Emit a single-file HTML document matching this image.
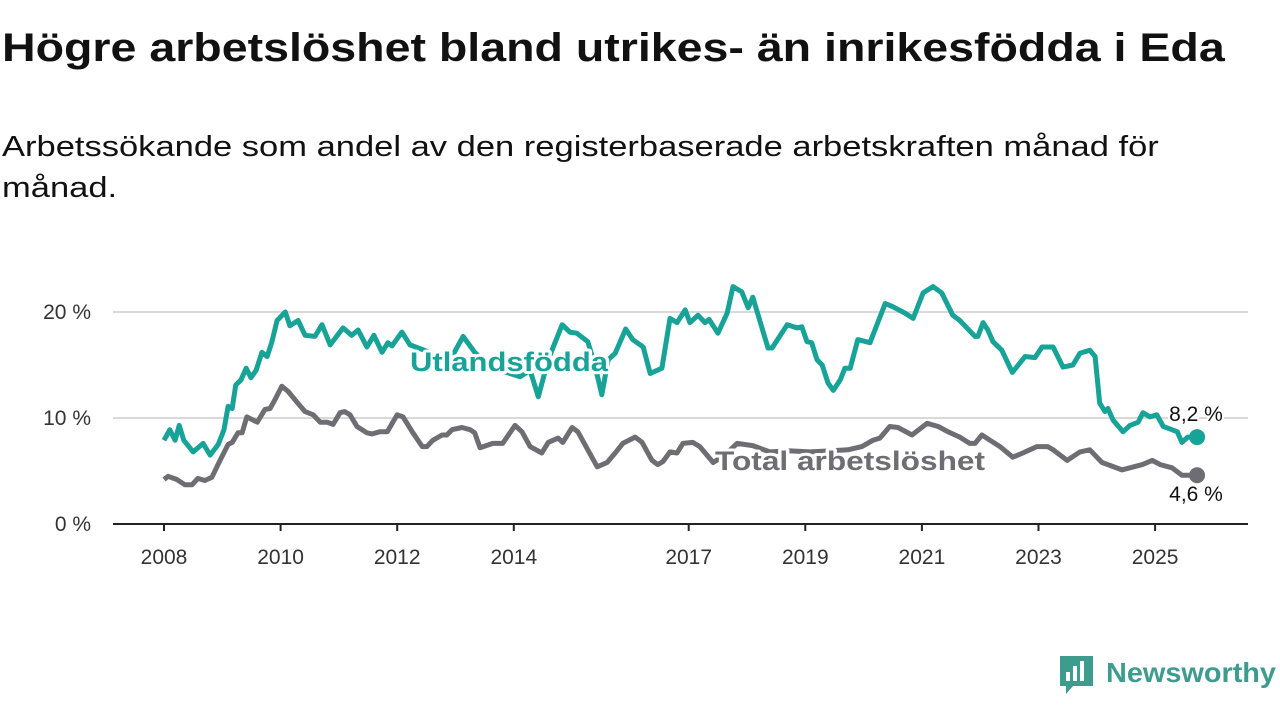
<!DOCTYPE html>
<html><head><meta charset="utf-8"><style>
body{margin:0;background:#fff;width:1280px;height:720px;overflow:hidden;font-family:"Liberation Sans","DejaVu Sans",sans-serif;color:#111;}
h1{position:absolute;left:2px;top:26px;margin:0;font-size:40px;font-weight:bold;white-space:nowrap;transform:scaleX(1.163);transform-origin:0 0;}
.sub{position:absolute;left:2px;top:127px;margin:0;font-size:29px;line-height:41px;white-space:nowrap;transform:scaleX(1.19);transform-origin:0 0;}
svg{position:absolute;left:0;top:0;}
</style></head><body>
<h1>Högre arbetslöshet bland utrikes- än inrikesfödda i Eda</h1>
<p class="sub">Arbetssökande som andel av den registerbaserade arbetskraften månad för<br>månad.</p>
<svg id="chart" width="1280" height="720"></svg>
<script>
const utlYears=[2008.00,2008.10,2008.19,2008.26,2008.34,2008.50,2008.67,2008.79,2008.93,2009.03,2009.10,2009.17,2009.23,2009.32,2009.41,2009.49,2009.58,2009.68,2009.77,2009.85,2009.94,2010.08,2010.16,2010.30,2010.42,2010.59,2010.71,2010.85,2011.07,2011.22,2011.33,2011.48,2011.60,2011.74,2011.84,2011.91,2012.08,2012.22,2012.56,2012.91,2013.13,2013.33,2013.59,2013.76,2014.11,2014.28,2014.42,2014.59,2014.83,2014.96,2015.08,2015.27,2015.39,2015.51,2015.62,2015.74,2015.92,2016.04,2016.22,2016.34,2016.54,2016.68,2016.80,2016.94,2017.02,2017.16,2017.28,2017.35,2017.50,2017.66,2017.76,2017.91,2018.02,2018.10,2018.36,2018.43,2018.69,2018.86,2018.94,2019.03,2019.11,2019.20,2019.29,2019.39,2019.48,2019.60,2019.68,2019.77,2019.90,2020.11,2020.37,2020.50,2020.71,2020.85,2021.02,2021.19,2021.34,2021.53,2021.65,2021.91,2021.96,2022.05,2022.13,2022.22,2022.37,2022.55,2022.77,2022.94,2023.06,2023.25,2023.42,2023.59,2023.71,2023.88,2023.97,2024.05,2024.14,2024.19,2024.28,2024.45,2024.57,2024.71,2024.79,2024.91,2025.03,2025.14,2025.29,2025.38,2025.46,2025.56,2025.72];
const utlValues=[7.9,8.9,7.9,9.3,7.9,6.8,7.6,6.5,7.5,8.9,11.1,10.9,13.1,13.6,14.7,13.8,14.5,16.2,15.8,17.2,19.2,20.0,18.7,19.2,17.8,17.7,18.8,16.9,18.5,17.8,18.3,16.7,17.8,16.2,17.1,16.8,18.1,16.9,16.2,15.5,17.7,16.2,14.8,14.5,13.9,14.5,12.0,15.5,18.8,18.1,18.0,17.2,15.0,12.2,15.5,16.1,18.4,17.4,16.7,14.2,14.7,19.4,19.0,20.2,19.0,19.7,19.0,19.3,18.0,19.9,22.4,21.9,20.4,21.4,16.6,16.6,18.8,18.5,18.6,17.2,17.1,15.5,15.0,13.3,12.6,13.6,14.7,14.7,17.4,17.1,20.8,20.5,19.9,19.4,21.8,22.4,21.8,19.7,19.2,17.7,17.7,19.0,18.3,17.2,16.4,14.3,15.8,15.7,16.7,16.7,14.8,15.0,16.1,16.4,15.8,11.4,10.6,10.9,9.8,8.7,9.3,9.6,10.5,10.1,10.3,9.2,8.9,8.7,7.7,8.2,8.2];
const totYears=[2008.00,2008.07,2008.22,2008.36,2008.48,2008.58,2008.70,2008.82,2008.96,2009.10,2009.17,2009.27,2009.34,2009.42,2009.60,2009.73,2009.82,2009.90,2010.02,2010.13,2010.28,2010.42,2010.56,2010.68,2010.80,2010.90,2011.02,2011.10,2011.19,2011.31,2011.48,2011.57,2011.70,2011.83,2012.00,2012.10,2012.27,2012.43,2012.51,2012.61,2012.77,2012.85,2012.94,2013.11,2013.25,2013.33,2013.42,2013.64,2013.81,2014.02,2014.14,2014.28,2014.48,2014.59,2014.76,2014.84,2015.00,2015.10,2015.27,2015.43,2015.60,2015.74,2015.87,2016.08,2016.20,2016.37,2016.47,2016.56,2016.68,2016.80,2016.90,2017.07,2017.19,2017.42,2017.62,2017.83,2018.10,2018.39,2018.74,2019.08,2019.42,2019.73,2019.97,2020.16,2020.28,2020.45,2020.59,2020.83,2021.09,2021.28,2021.45,2021.65,2021.82,2021.91,2022.03,2022.17,2022.34,2022.56,2022.73,2022.85,2022.97,2023.16,2023.25,2023.49,2023.71,2023.88,2024.09,2024.19,2024.43,2024.57,2024.78,2024.95,2025.09,2025.29,2025.46,2025.72];
const totValues=[4.2,4.5,4.2,3.7,3.7,4.3,4.1,4.4,6.0,7.5,7.7,8.6,8.6,10.1,9.6,10.8,10.9,11.7,13.0,12.5,11.5,10.6,10.3,9.6,9.6,9.4,10.5,10.6,10.3,9.2,8.6,8.5,8.7,8.7,10.3,10.1,8.6,7.3,7.3,7.9,8.4,8.4,8.9,9.1,8.9,8.6,7.2,7.6,7.6,9.3,8.7,7.3,6.7,7.7,8.1,7.7,9.1,8.7,7.0,5.4,5.8,6.7,7.6,8.2,7.7,6.0,5.6,5.9,6.8,6.7,7.6,7.7,7.3,5.8,6.5,7.6,7.4,6.8,6.9,6.8,6.9,7.0,7.3,7.9,8.1,9.2,9.1,8.4,9.5,9.2,8.7,8.2,7.6,7.6,8.4,7.9,7.3,6.3,6.7,7.0,7.3,7.3,7.0,6.0,6.8,7.0,5.8,5.6,5.1,5.3,5.6,6.0,5.6,5.3,4.6,4.6];
const yTicks=[0,10,20];
const yTickLabels=["0 %","10 %","20 %"];
const xTicks=[2008,2010,2012,2014,2017,2019,2021,2023,2025];
const xTickLabels=["2008","2010","2012","2014","2017","2019","2021","2023","2025"];
const utlEndLabel="8,2 %", totEndLabel="4,6 %";

const X=y=>164+(y-2008)*58.3;
const Y=v=>524-v*10.6;
const svg=document.getElementById('chart');
const NS='http://www.w3.org/2000/svg';
function mk(tag,attrs,parent){const e=document.createElementNS(NS,tag);for(const k in attrs)e.setAttribute(k,attrs[k]);(parent||svg).appendChild(e);return e;}
const TEAL='#17a397',GRAY='#6e6d73';

yTicks.forEach((t,i)=>{
  if(t>0){const g=mk('line',{x1:113,x2:1248,y1:Y(t),y2:Y(t),stroke:'#d9d9d9','stroke-width':2});
  
  }
  const l=mk('text',{x:91,y:Y(t)+7,'text-anchor':'end','font-size':21,fill:'#333'});
  l.textContent=yTickLabels[i];
  
  
});
xTicks.forEach((t,i)=>{
  const tk=mk('line',{x1:X(t),x2:X(t),y1:524,y2:531,stroke:'#222','stroke-width':2});
  
  
  const l=mk('text',{x:X(t),y:564,'text-anchor':'middle','font-size':21,fill:'#333'});
  l.textContent=xTickLabels[i];
  
  
});
const ax=mk('line',{x1:113,x2:1248,y1:524,y2:524,stroke:'#222','stroke-width':2});



function line(xs,vs,color,name){
  const d=xs.map((x,i)=>(i?'L':'M')+X(x).toFixed(1)+','+Y(vs[i]).toFixed(1)).join('');
  const p=mk('path',{d:d,fill:'none',stroke:color,'stroke-width':5,'stroke-linejoin':'round'});
  
  
  const n=xs.length-1;
  const c=mk('circle',{cx:X(xs[n]),cy:Y(vs[n]),r:8,fill:color});
  
  
}
line(totYears,totValues,GRAY,'total');
line(utlYears,utlValues,TEAL,'utlandsfodda');

function lbl(txt,x,y,w,color,name){
  const t=mk('text',{x:x,y:y,'font-size':27,'font-weight':'bold',fill:color,stroke:'#fff','stroke-width':6,'paint-order':'stroke','stroke-linejoin':'round',textLength:w,lengthAdjust:'spacingAndGlyphs'});
  t.textContent=txt;
  
  
}
lbl('Utlandsfödda',410,371,198,TEAL,'utlandsfodda-label');
lbl('Total arbetslöshet',715,470,270,GRAY,'total-label');

const e1=mk('text',{x:1196,y:421,'text-anchor':'middle','font-size':21,fill:'#111',stroke:'#fff','stroke-width':4,'paint-order':'stroke'});
e1.textContent=utlEndLabel;


const e2=mk('text',{x:1196,y:501,'text-anchor':'middle','font-size':21,fill:'#111',stroke:'#fff','stroke-width':4,'paint-order':'stroke'});
e2.textContent=totEndLabel;



const lg=mk('g',{});


mk('path',{d:'M1060,656 h33 v30 h-20 l-7,8 v-8 h-6 z',fill:'#3d9c8e'},lg);
mk('rect',{x:1066,y:672,width:4,height:9,fill:'#fff'},lg);
mk('rect',{x:1073,y:666,width:4,height:15,fill:'#fff'},lg);
mk('rect',{x:1080,y:661,width:4,height:20,fill:'#fff'},lg);
const lt=mk('text',{x:1106,y:682,'font-size':28,'font-weight':'bold',fill:'#3d9c8e',textLength:170,lengthAdjust:'spacingAndGlyphs'},lg);
lt.textContent='Newsworthy';
</script>
</body></html>
